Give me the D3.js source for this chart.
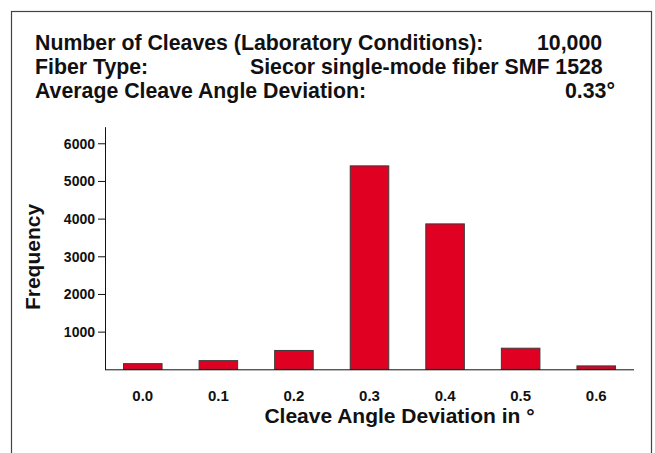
<!DOCTYPE html>
<html lang="en">
<head>
<meta charset="UTF-8">
<title>Cleave Angle Deviation</title>
<style>
  body { margin:0; background:#fff; }
  svg { display:block; }
  text { font-family: "Liberation Sans", Arial, sans-serif; font-weight: bold; fill:#111; }
</style>
</head>
<body>
<svg width="655" height="453"></svg>
<script src="https://cdnjs.cloudflare.com/ajax/libs/d3/7.8.5/d3.min.js"></script>
<script>
// data
const categories = ["0.0", "0.1", "0.2", "0.3", "0.4", "0.5", "0.6"];
const frequency = [150, 230, 500, 5400, 3860, 560, 90];
const yTicks = [1000, 2000, 3000, 4000, 5000, 6000];
const headerLabels = ["Number of Cleaves (Laboratory Conditions):", "Fiber Type:", "Average Cleave Angle Deviation:"];
const headerValues = ["10,000", "Siecor single-mode fiber SMF 1528", "0.33\u00b0"];
const headerValueX = [537, 250, 565];

const svg = d3.select("svg");

// outer frame (bottom edge runs off the picture)
svg.append("rect")
  .attr("x", 11.5).attr("y", 11.5)
  .attr("width", 640).attr("height", 460)
  .attr("fill", "none")
  .attr("stroke", "#444")
  .attr("stroke-width", 1.2);

// header block
const header = svg.append("g");
header.selectAll("text.lbl")
  .data(headerLabels)
  .join("text")
  .attr("class", "lbl")
  .attr("x", 35)
  .attr("y", (d, i) => 50 + i * 24)
  .style("font-size", "21.3px")
  .text(d => d);
header.selectAll("text.val")
  .data(headerValues)
  .join("text")
  .attr("class", "val")
  .attr("x", (d, i) => headerValueX[i])
  .attr("y", (d, i) => 50 + i * 24)
  .style("font-size", "21.3px")
  .text(d => d);

// chart area
const plotL = 105, plotR = 634, plotT = 126.7, plotB = 369.3;

const x = d3.scaleBand()
  .domain(categories)
  .range([plotL, plotR])
  .paddingInner(0.49)
  .paddingOuter(0.245);

const y = d3.scaleLinear()
  .domain([0, 6440])
  .range([plotB, plotT]);

svg.append("g")
  .selectAll("rect")
  .data(frequency)
  .join("rect")
  .attr("x", (d, i) => x(categories[i]))
  .attr("y", d => y(d))
  .attr("width", x.bandwidth())
  .attr("height", d => plotB - y(d))
  .attr("fill", "#e00022")
  .attr("stroke", "#3a3a3a")
  .attr("stroke-width", 1);

// y axis
const yAxis = svg.append("g")
  .attr("transform", `translate(${plotL},0)`)
  .call(d3.axisLeft(y).tickValues(yTicks).tickFormat(d3.format("d"))
    .tickSize(7).tickPadding(3).tickSizeOuter(0));
yAxis.select(".domain").attr("stroke", "#111");
yAxis.selectAll(".tick line").attr("stroke", "#111");
yAxis.selectAll("text").style("font-size", "14px").attr("fill", "#111").attr("dy", "0.35em");

// x axis line only, labels below
const xAxis = svg.append("g")
  .attr("transform", `translate(0,${plotB})`)
  .call(d3.axisBottom(x).tickSize(0).tickPadding(21));
xAxis.select(".domain").attr("stroke", "#111").attr("d", `M${plotL},0.5H${plotR}`);
xAxis.selectAll("text").style("font-size", "15px").attr("fill", "#111");

// axis titles
svg.append("text")
  .attr("x", 399.5)
  .attr("y", 423)
  .attr("text-anchor", "middle")
  .style("font-size", "21px")
  .text("Cleave Angle Deviation in \u00b0");

svg.append("text")
  .attr("transform", "translate(40,257) rotate(-90)")
  .attr("text-anchor", "middle")
  .style("font-size", "21px")
  .text("Frequency");
</script>
</body>
</html>
